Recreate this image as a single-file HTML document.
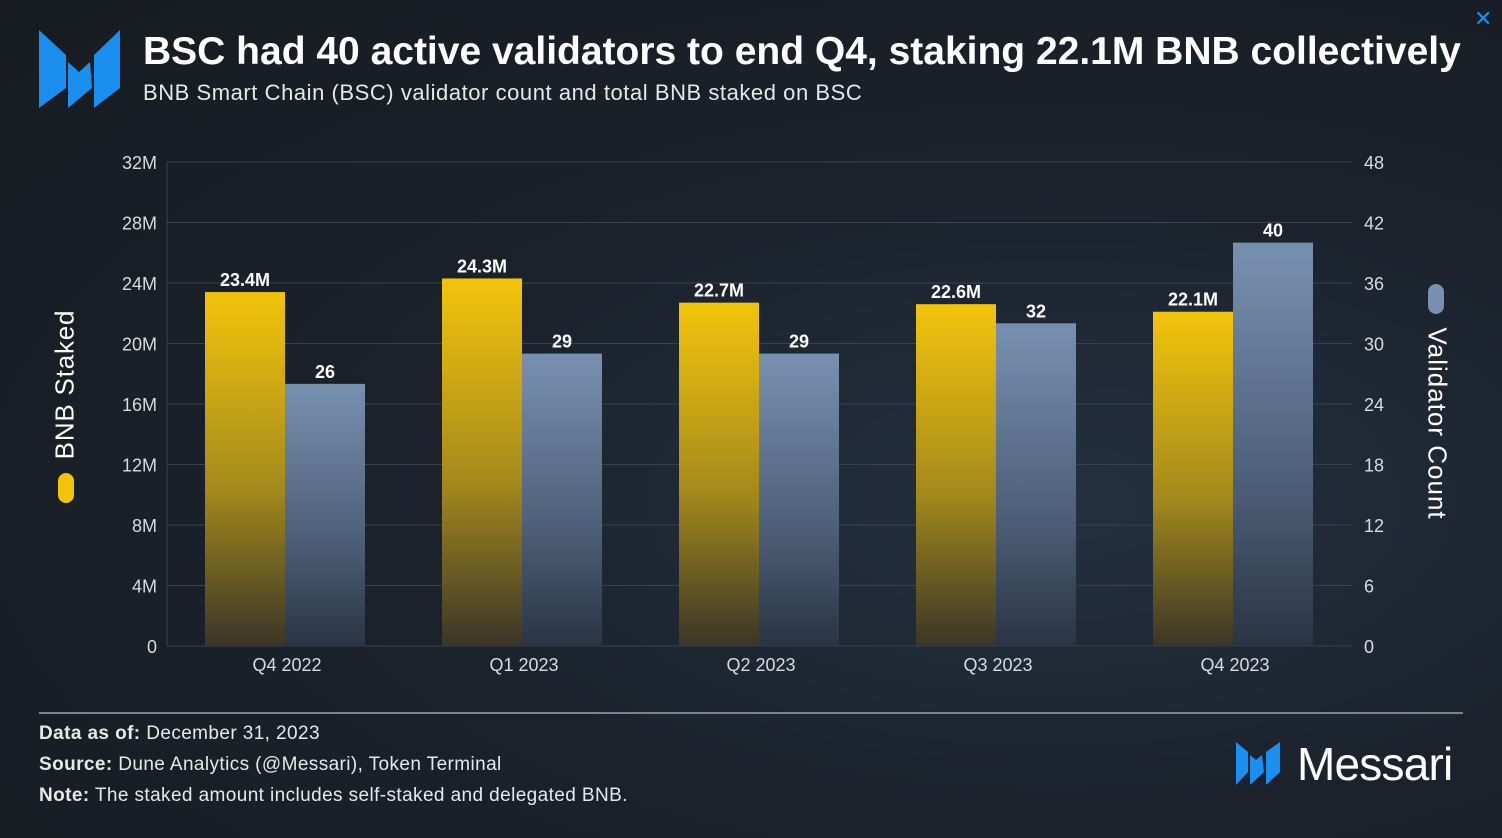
<!DOCTYPE html>
<html><head><meta charset="utf-8"><style>
body{margin:0;width:1502px;height:838px;overflow:hidden;background:#181d24;font-family:"Liberation Sans",sans-serif;}
#root{position:relative;width:1502px;height:838px;background:radial-gradient(ellipse at 70% 60%,#243040 0%,#1b222c 45%,#171b21 100%);}
.t{position:absolute;color:#fff;white-space:nowrap}
</style></head><body>
<div id="root">
<svg style="position:absolute;left:0;top:0" width="1502" height="838">
<defs>
<linearGradient id="gy" x1="0" y1="0" x2="0" y2="1"><stop offset="0" stop-color="#f2c40c"/><stop offset="0.55" stop-color="#a58a1c"/><stop offset="1" stop-color="#3a3628"/></linearGradient>
<linearGradient id="gb" x1="0" y1="0" x2="0" y2="1"><stop offset="0" stop-color="#7890b0"/><stop offset="0.6" stop-color="#4d5f78"/><stop offset="1" stop-color="#2a3444"/></linearGradient>
</defs>
<g fill="#1a8ff0">
<polygon points="39,30 66,55 66,88 39,108"/>
<polygon points="68,62 79,72 90,62 92,88 68,108"/>
<polygon points="120,30 120,88 94,108 94,55"/>
</g>
<g id="grid"></g><g id="bars"></g><g id="labels"></g>
<g fill="#1a8ff0">
<polygon points="1236,742 1248,752 1248,772 1236,785"/>
<polygon points="1250,755 1256,760 1262,755 1264,772 1250,785"/>
<polygon points="1280,742 1280,772 1266,785 1266,752"/>
</g>
<line x1="39" y1="713" x2="1463" y2="713" stroke="#7c838d" stroke-width="2"/>
</svg>
<div class="t" style="left:143px;top:30px;font-size:39px;font-weight:bold;letter-spacing:0px">BSC had 40 active validators to end Q4, staking 22.1M BNB collectively</div>
<div class="t" style="left:143px;top:80px;font-size:22px;letter-spacing:0.55px;color:#e6e8eb">BNB Smart Chain (BSC) validator count and total BNB staked on BSC</div>
<div class="t" style="left:1474px;top:6px;font-size:22px;color:#1a8ff0">✕</div>
<div class="t" style="left:-10px;top:369px;width:150px;text-align:center;transform:rotate(-90deg);transform-origin:center;font-size:26px;letter-spacing:0.8px">BNB Staked</div>
<div style="position:absolute;left:58px;top:473px;width:16px;height:30px;border-radius:8px;background:#f2c40c"></div>
<div class="t" style="left:1337px;top:408px;width:200px;text-align:center;transform:rotate(90deg);font-size:26px;letter-spacing:1px">Validator Count</div>
<div style="position:absolute;left:1428px;top:284px;width:16px;height:30px;border-radius:8px;background:#7890b0"></div>
<div class="t" style="left:39px;top:718px;font-size:19px;letter-spacing:0.4px;color:#e6e8eb;line-height:31px"><b>Data as of:</b> December 31, 2023<br><b>Source:</b> Dune Analytics (@Messari), Token Terminal<br><b>Note:</b> The staked amount includes self-staked and delegated BNB.</div>
<div class="t" style="left:1297px;top:737px;font-size:46px;letter-spacing:-0.8px">Messari</div>
</div>
<script>
const categories=["Q4 2022","Q1 2023","Q2 2023","Q3 2023","Q4 2023"];
const staked=[23.4,24.3,22.7,22.6,22.1];
const validators=[26,29,29,32,40];
const leftTicks=[0,4,8,12,16,20,24,28,32];
const rightTicks=[0,6,12,18,24,30,36,42,48];
const NS="http://www.w3.org/2000/svg";
const top0=162,bot=646,xl=167,xr=1352;
const yL=v=>bot-(v/32)*(bot-top0);
const yR=v=>bot-(v/48)*(bot-top0);
const xC=i=>287+i*237;
function mk(tag,attrs,parent,text){const e=document.createElementNS(NS,tag);for(const k in attrs)e.setAttribute(k,attrs[k]);if(text!==undefined)e.textContent=text;document.getElementById(parent).appendChild(e);return e;}
leftTicks.forEach((t,i)=>{
 const y=yL(t);
 const g=mk('line',{x1:xl,x2:xr,y1:y,y2:y,stroke:'#3a424d','stroke-width':1},'grid');
 
 
 const a=mk('text',{x:157,y:y+7,'text-anchor':'end',fill:'#d8dbe0','font-size':18,'font-family':'Liberation Sans'},'labels',t===0?'0':t+'M');
 
 
 const b=mk('text',{x:1364,y:yR(rightTicks[i])+7,fill:'#d8dbe0','font-size':18,'font-family':'Liberation Sans'},'labels',String(rightTicks[i]));
 
 
});
const ax=mk('line',{x1:167,x2:167,y1:top0,y2:bot,stroke:'#3a424d'},'grid');


categories.forEach((c,i)=>{
 const cx=xC(i);
 const y1=yL(staked[i]);
 const r1=mk('rect',{x:cx-82,y:y1,width:80,height:bot-y1,fill:'url(#gy)'},'bars');
 
 
 const y2=yR(validators[i]);
 const r2=mk('rect',{x:cx-2,y:y2,width:80,height:bot-y2,fill:'url(#gb)'},'bars');
 
 
 const l1=mk('text',{x:cx-42,y:y1-6,'text-anchor':'middle',fill:'#fff','font-size':18,'font-weight':'bold','font-family':'Liberation Sans'},'labels',staked[i]+'M');
 
 
 const l2=mk('text',{x:cx+38,y:y2-6,'text-anchor':'middle',fill:'#fff','font-size':18,'font-weight':'bold','font-family':'Liberation Sans'},'labels',String(validators[i]));
 
 
 const cl=mk('text',{x:cx,y:671,'text-anchor':'middle',fill:'#d8dbe0','font-size':18,'font-family':'Liberation Sans'},'labels',c);
 
 
});
</script>
</body></html>
